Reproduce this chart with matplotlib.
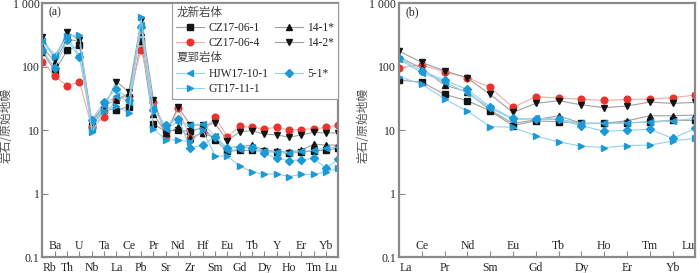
import matplotlib
matplotlib.use('Agg')
import matplotlib.pyplot as plt
from matplotlib.legend_handler import HandlerBase
from matplotlib.text import Text
from matplotlib.lines import Line2D
import matplotlib.transforms as mtransforms

plt.rcParams['font.family'] = ['Liberation Serif', 'Noto Sans CJK SC', 'DejaVu Sans']

# spider diagram elements
trace_el = ['Rb', 'Ba', 'Th', 'U', 'Nb', 'Ta', 'La', 'Ce', 'Pb', 'Pr', 'Sr', 'Nd', 'Zr',
            'Hf', 'Sm', 'Eu', 'Gd', 'Tb', 'Dy', 'Y', 'Ho', 'Er', 'Tm', 'Yb', 'Lu']
ree_el = ['La', 'Ce', 'Pr', 'Nd', 'Sm', 'Eu', 'Gd', 'Tb', 'Dy', 'Ho', 'Er', 'Tm', 'Yb', 'Lu']

# (a) primitive-mantle normalised trace elements
cz1_a = [170, 85, 180, 215, 11.5, 21, 21, 23, 255, 12.5, 9.5, 10, 9.5, 11, 7, 4.6,
         4.8, 4.8, 4.6, 4.5, 4.3, 4.5, 4.7, 4.8, 5.2]
cz4_a = [120, 70, 50, 57, 11, 16, 31, 34, 185, 28, 8, 22, 7.5, 9, 16, 7.8,
         11.5, 11, 10.5, 11, 10, 10.2, 10.5, 11, 12]
s141_a = [200, 120, 270, 250, 14, 24, 30, 38, 350, 18, 9, 11, 7.5, 9, 7.5, 5.2,
          5.5, 5.8, 4.8, 4.6, 4.5, 4.8, 6, 5.8, 5.8]
s142_a = [290, 130, 350, 260, 13, 23, 58, 40, 540, 30, 9, 23, 12, 12, 12.7, 6.8,
          9.4, 9.8, 8.6, 8.4, 7.7, 8.4, 9.2, 9, 9]
hjw_a = [250, 155, 290, 150, 10.5, 25, 35, 28, 450, 22, 10.5, 13.5, 12, 12.5, 8, 4.8,
         5, 5.5, 4.6, 4.5, 4.4, 4.6, 4.8, 5.2, 5.5]
s51_a = [180, 95, 260, 140, 14.5, 28, 45, 30, 420, 20.5, 12, 15, 5.2, 5.8, 7.9, 5.2,
         5.5, 5.2, 4.3, 3.6, 3.3, 3.4, 3.6, 2.5, 3.5]
gt_a = [240, 140, 300, 320, 9.3, 20, 24, 18.5, 600, 10.5, 7, 7, 6.5, 10, 3.9, 3.9,
        2.7, 2.2, 2.0, 2.05, 1.85, 2.0, 2.0, 2.2, 2.5]

# (b) chondrite-normalised REE
cz1_b = [61, 57, 36.5, 29, 20, 11.7, 14, 13.5, 12.7, 12.7, 13, 13.5, 14.2, 14.2]
cz4_b = [96, 106, 83, 67, 47, 22.7, 33.5, 32, 30.7, 29.3, 30.4, 30.7, 32.5, 35.6]
s141_b = [141, 94, 51, 40, 20.6, 12.7, 14.5, 16.8, 12.8, 12.8, 14, 16.8, 16.8, 17.2]
s142_b = [175, 116, 86, 66, 36.5, 19, 26.3, 28.9, 25, 22.5, 23.9, 27.6, 26.3, 27.3]
hjw_b = [130, 80, 58, 38, 22.5, 14.5, 15.3, 15, 12.7, 12.7, 13, 13.2, 14, 15.3]
s51_b = [135, 86, 61, 43.6, 23.3, 15.3, 14.7, 14.7, 11.7, 9.6, 9.9, 10.3, 7.4, 10.6]
gt_b = [69, 53, 30.8, 19.9, 11.3, 11.1, 8.1, 6.5, 5.6, 5.3, 5.7, 5.8, 6.7, 7.4]

ytick_vals = [0.1, 1, 10, 100, 1000]
ytick_labels = ['0.1', '1', '10', '100', '1 000']

black = '#141414'
red = '#e8342c'
blue = '#1c9ad6'
gray_ln = '#a0a0a0'
red_ln = '#f3aaa3'
blue_ln = '#93d1ee'
frame = '#8a8a8a'
txt = '#262626'

styles = [
    ('CZ17-06-1', 's', black, gray_ln),
    ('CZ17-06-4', 'o', red, red_ln),
    ('14-1*', '^', black, gray_ln),
    ('14-2*', 'v', black, gray_ln),
    ('HJW17-10-1', '<', blue, blue_ln),
    ('5-1*', 'D', blue, blue_ln),
    ('GT17-11-1', '>', blue, blue_ln),
]
data_a = [cz1_a, cz4_a, s141_a, s142_a, hjw_a, s51_a, gt_a]
data_b = [cz1_b, cz4_b, s141_b, s142_b, hjw_b, s51_b, gt_b]

fig = plt.figure(figsize=(7.0, 2.73), dpi=100)
ax1 = fig.add_axes([0.0607, 0.0586, 0.4227, 0.930])
ax2 = fig.add_axes([0.570, 0.0586, 0.4234, 0.930])


def draw_panel(ax, elements, series, tag):
    x = list(range(len(elements)))
    n = len(elements)
    handles = []
    for (name, mk, mc, lc), vals in zip(styles, series):
        ms = 4.0 if mk == 'D' else 4.8
        h, = ax.plot(x, vals, color=lc, lw=0.8, marker=mk, markersize=ms,
                     markerfacecolor=mc, markeredgecolor=mc, label=name)
        handles.append(h)
    ax.set_yscale('log')
    ax.set_ylim(0.1, 1000)
    ax.set_xlim(0, n - 1)
    ax.set_yticks(ytick_vals)
    ax.set_yticklabels(ytick_labels)
    ax.minorticks_off()
    ax.set_xticks(x)
    ax.tick_params(axis='x', direction='in', length=4, width=0.8, color=frame,
                   labelbottom=False)
    ax.tick_params(axis='y', direction='in', length=4, width=0.8, color=frame,
                   labelsize=8.5, labelcolor=txt, pad=2)
    for s in ax.spines.values():
        s.set_color(frame)
        s.set_linewidth(1.6)
    trans = mtransforms.blended_transform_factory(ax.transData, ax.transAxes)
    for i, el in enumerate(elements):
        ypos = -0.045 if i % 2 == 0 else 0.042
        ha = 'center'
        xpos = i
        if i == 0:
            ha, xpos = 'left', 0.02
        elif i == n - 1:
            ha, xpos = 'right', n - 1.02
        ax.text(xpos, ypos, el, transform=trans, ha=ha, va='center',
                fontsize=8.5, color=txt)
    ax.text(0.022, 0.962, tag, transform=ax.transAxes, ha='left', va='center',
            fontsize=8.5, color=txt)
    ax.set_ylabel('岩石/原始地幔', fontsize=8.5, color='#555555',
                  family=['Noto Sans CJK SC', 'DejaVu Sans'])
    ax.yaxis.set_label_coords(-0.1, 0.52)
    return handles


handles = draw_panel(ax1, trace_el, data_a, '(a)')
draw_panel(ax2, ree_el, data_b, '(b)')


class Header(object):
    def __init__(self, text):
        self.text = text


class HeaderHandler(HandlerBase):
    def create_artists(self, legend, orig_handle, xdescent, ydescent, width,
                       height, fontsize, trans):
        t = Text(-xdescent, -ydescent + height / 2.0, orig_handle.text,
                 ha='left', va='center', fontsize=fontsize, color='#444444',
                 family=['Noto Sans CJK SC', 'DejaVu Sans'])
        t.set_transform(trans)
        return [t]


blank = Line2D([], [], linestyle='none', marker=None)
h = handles
leg_handles = [Header('龙新岩体'), h[0], h[1], Header('夏郢岩体'), h[4], h[6],
               blank, h[2], h[3], blank, h[5], blank]
leg_labels = ['', 'CZ17-06-1', 'CZ17-06-4', '', 'HJW17-10-1', 'GT17-11-1',
              '', '14-1*', '14-2*', '', '5-1*', '']
leg = ax1.legend(leg_handles, leg_labels, ncol=2, loc='upper right',
                 bbox_to_anchor=(1.0, 1.0), borderaxespad=0, fontsize=8.3,
                 handlelength=2.4, handletextpad=0.4, columnspacing=0.55,
                 labelspacing=0.27, borderpad=0.35, fancybox=False, framealpha=1,
                 edgecolor='#9a9a9a', handler_map={Header: HeaderHandler()})
leg.get_frame().set_linewidth(0.8)
for t in leg.get_texts():
    t.set_color(txt)

fig.savefig('out.png', dpi=100)
